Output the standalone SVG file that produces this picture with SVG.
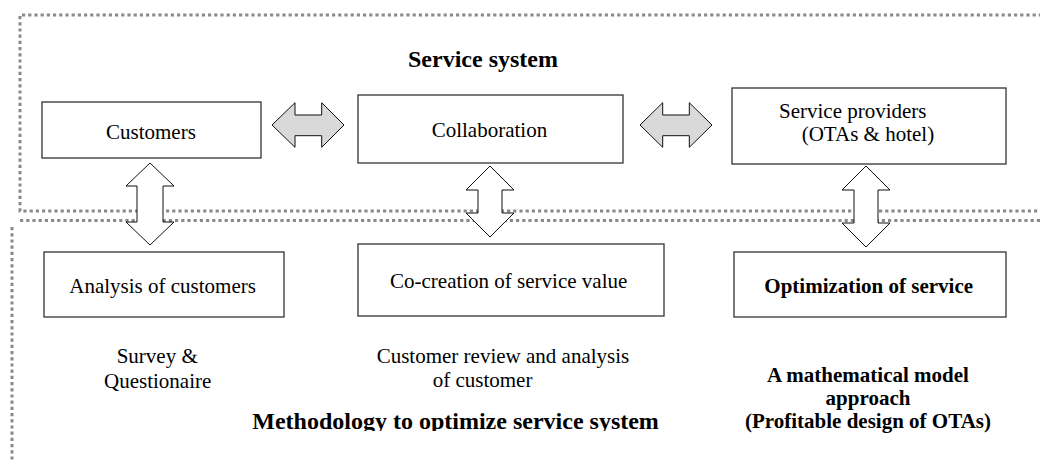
<svg xmlns="http://www.w3.org/2000/svg" width="1040" height="460" viewBox="0 0 1040 460">
<style>
.frame{fill:none;stroke:#8a8a8a;stroke-width:3;stroke-dasharray:3.2 3}
.box{fill:#fff;stroke:#333;stroke-width:1.3}
.t{font-family:"Liberation Serif","Times New Roman",serif;font-size:21px;fill:#000}
.b{font-weight:bold}
.h{font-size:24px}
.c{text-anchor:middle}
.harr{fill:#d9d9d9;stroke:#111;stroke-width:1}
.varr{fill:#fff;stroke:#111;stroke-width:1}
</style>
<defs>
<clipPath id="clipMeth"><rect x="0" y="380" width="1040" height="51"/></clipPath>
</defs>
<rect width="1040" height="460" fill="#fff"/>
<g id="frames">
<path class="frame" d="M1042,15 H20 V211 H1042"/>
<path class="frame" d="M20,220.5 H1042"/>
<path class="frame" d="M12,227 V462"/>
</g>
<g id="title-service-system"><text class="t b h" x="408" y="66.5">Service system</text></g>
<g id="customers"><rect class="box" x="42" y="102" width="219" height="56"/><text class="t" x="106" y="139">Customers</text></g>
<g id="collaboration"><rect class="box" x="358" y="95" width="265" height="68"/><text class="t" x="431.7" y="136.5">Collaboration</text></g>
<g id="service-providers"><rect class="box" x="732" y="88" width="274" height="76"/><text class="t" x="779" y="117.5">Service providers</text><text class="t" x="801.7" y="141">(OTAs &amp; hotel)</text></g>
<g id="analysis-of-customers"><rect class="box" x="44" y="252" width="240" height="65"/><text class="t" x="69.3" y="293">Analysis of customers</text></g>
<g id="co-creation"><rect class="box" x="358" y="244" width="306" height="72"/><text class="t" x="390" y="288">Co-creation of service value</text></g>
<g id="optimization"><rect class="box" x="734" y="252" width="272" height="65"/><text class="t b" x="764.3" y="293">Optimization of service</text></g>
<g id="survey-label"><text class="t" x="116.7" y="363">Survey &amp;</text><text class="t" x="104" y="388">Questionaire</text></g>
<g id="review-label"><text class="t" x="376.7" y="363">Customer review and analysis</text><text class="t" x="432.7" y="387">of customer</text></g>
<g id="model-label"><text class="t b c" x="868" y="382">A mathematical model</text><text class="t b c" x="868" y="405">approach</text><text class="t b c" x="868" y="428">(Profitable design of OTAs)</text></g>
<g id="methodology-title" clip-path="url(#clipMeth)"><text class="t b h" x="252.3" y="429">Methodology to optimize service system</text></g>
<g id="connectors">
<path class="harr" d="M272,125 L295,102.7 V115 H321.7 V102.7 L344,125 L321.7,147.3 V135.7 H295 V147.3 Z"/>
<path class="harr" d="M640,125 L662.7,102.7 V115 H689.3 V102.7 L712,125 L689.3,147.3 V135.7 H662.7 V147.3 Z"/>
<path class="varr" d="M150,163 L174,186 H163 V222 H174 L150,245 L126,222 H137 V186 H126 Z"/>
<path class="varr" d="M490,166 L514,190 H502 V213 H514 L490,237 L466,213 H478 V190 H466 Z"/>
<path class="varr" d="M866,166 L890,190 H878 V223 H890 L866,247 L842,223 H854 V190 H842 Z"/>
</g>
</svg>
